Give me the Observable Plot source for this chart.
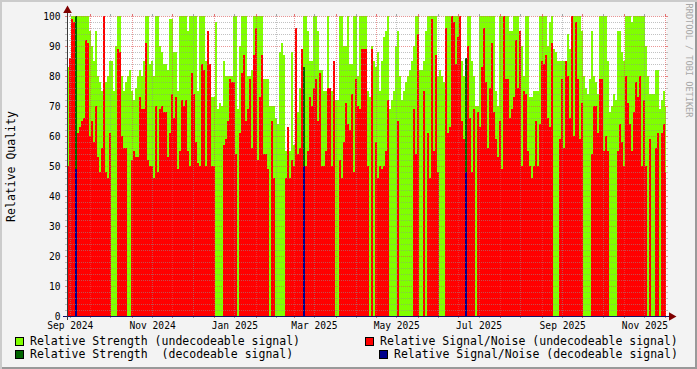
<!DOCTYPE html>
<html><head><meta charset="utf-8">
<script src="https://cdn.jsdelivr.net/npm/d3@7"></script>
<script src="https://cdn.jsdelivr.net/npm/@observablehq/plot@0.6"></script>
<style>
body{margin:0;background:#f3f3f3;}
#wrap{position:relative;width:697px;height:369px;background:#f3f3f3;box-shadow:inset 2px 2px 0 #cbcbcb, inset -2px -2px 0 #999;font-family:"DejaVu Sans Mono",monospace;overflow:hidden;}
#chart svg{display:block;}
.leg{position:absolute;font-size:11.5px;white-space:pre;color:#000;line-height:13px;}
.sw{position:absolute;width:7px;height:7px;border:1px solid #000;}
</style></head><body>
<div id="wrap"><div id="chart"></div><div id="legend"></div></div>
<script>
// time span of the graph (RRD consolidated, ~2 pixels per sample)
const startTime = "2024-09-13T22:10:00Z";
const endTime   = "2025-12-01T22:50:00Z";

// Relative Strength (undecodeable signal)
const strengthUndecodeable = [
83,84,100,100,100,100,100,100,100,100, 100,95,90,85,95,80,78,75,100,78,
80,85,85,75,90,100,100,80,75,78, 80,82,75,72,76,80,82,80,85,100,
100,84,85,80,100,100,90,88,84,84,
82,99,99,88,88,75,100,100,100,100, 95,100,100,100,100,75,100,100,100,85,
70,70,73,73,98,69,71,70,85,80, 80,80,80,100,100,69,90,100,100,100,
80,80,82,100,100,100,100,100,79,79,
79,70,70,70,66,64,88,91,87,55, 52,55,88,57,60,68,76,80,100,100,
95,85,85,100,100,95,82,82,75,75, 100,65,75,75,72,72,100,100,90,90,
100,84,84,100,100,80,100,100,100,100,
75,73,90,85,83,88,75,85,93,95, 100,69,72,75,90,95,80,72,75,78,
80,82,85,90,100,100,82,82,85,95, 100,100,100,100,100,80,82,80,78,100,
100,100,100,100,100,100,90,85,80,80,
100,100,85,80,70,70,100,100,100,100, 100,100,100,100,75,70,100,100,100,100,
100,95,95,100,100,100,90,90,80,100, 100,73,73,75,75,75,100,100,100,100,
90,98,100,89,88,85,85,85,85,85,
94,89,100,100,100,100,100,95,80,76, 74,79,95,80,78,74,100,100,100,100,
85,68,70,74,72,95,95,88,85,100, 100,100,98,100,100,100,100,100,100,90,
80,74,74,74,82,82,69,72,75,70
];

// Relative Signal/Noise (undecodeable signal)
const snUndecodeable = [
50,86,99,98,96,61,63,65,66,92, 91,60,65,58,70,53,48,56,100,48,
46,61,0,0,0,89,88,60,56,56, 0,0,52,55,53,53,73,69,69,91,
52,50,50,46,70,48,69,70,68,68,
53,61,74,66,73,49,55,72,70,72, 55,50,81,74,58,51,50,84,82,50,
95,84,50,50,0,0,0,0,57,59, 65,79,78,78,54,0,61,81,87,65,
69,79,56,87,96,52,73,87,54,54,
49,0,65,46,0,0,0,0,0,46, 63,46,52,50,96,54,56,89,79,50,
55,73,70,76,79,65,81,50,50,55, 76,76,50,85,0,0,52,46,58,71,
64,62,74,48,79,70,69,89,89,89,
50,0,89,0,58,46,50,49,50,55, 72,0,0,0,0,65,0,0,0,0,
0,0,0,69,54,94,0,0,75,0, 61,46,99,55,87,48,0,0,0,96,
61,63,100,98,84,93,100,65,59,59,
90,66,48,69,0,68,63,83,96,78, 56,76,91,68,59,53,65,49,100,79,
79,66,69,73,92,76,95,50,75,74, 55,50,46,50,65,50,64,85,84,87,
66,63,91,0,0,0,59,79,56,85,
80,66,100,60,98,79,59,71,0,0, 0,0,54,70,70,61,79,79,55,60,
55,0,0,0,0,55,64,58,50,80, 71,64,55,68,78,73,80,50,72,50,
0,59,0,0,56,61,0,61,64,48
];

// decodeable signal samples
const decodeDates = ["2024-09-20", "2025-03-08", "2025-07-06"];
const strengthDecodeable = [100, 83, 86];
const snDecodeable = [49, 50, 48];

// x axis labels (month), y axis labels
const labelMonths = ["2024-09","2024-11","2025-01","2025-03","2025-05","2025-07","2025-09","2025-11"];
const yLabels = [0,10,20,30,40,50,60,70,80,90,100];

const seriesNames = [
  "Relative Strength (undecodeable signal)",
  "Relative Signal/Noise (undecodeable signal)",
  "Relative Strength  (decodeable signal)",
  "Relative Signal/Noise (decodeable signal)"
];
const seriesColors = ["#80ff00", "#ff0000", "#006400", "#00008c"];

const yTitle = "Relative Quality";
const watermark = "RRDTOOL / TOBI OETIKER";

// ---- build
const W = 697, H = 333, ML = 67, MR = 31, MT = 16, MB = 17;
const t0 = new Date(startTime), t1 = new Date(endTime);
const plotW = W - ML - MR;
const msPx = (t1 - t0) / plotW;
const step = 2 * msPx;
const bars = strengthUndecodeable.map((g, i) => ({
  x1: new Date(+t0 + i * step),
  x2: new Date(Math.min(+t0 + (i + 1) * step, +t1)),
  g, r: snUndecodeable[i]
}));
const DAY = 864e5;
const dec = decodeDates.map((d, i) => ({
  x1: new Date(d + "T00:00:00Z"),
  x2: new Date(+new Date(d + "T00:00:00Z") + 1.1 * DAY),
  s: strengthDecodeable[i], n: snDecodeable[i]
}));
const monthStarts = d3.utcMonth.range(t0, t1);
const mids = d3.utcMonth.range(d3.utcMonth.floor(t0), t1).map(d => d3.utcDay.offset(d, 15)).filter(d => d > t0 && d < t1);
const labelDates = labelMonths.map(m => d3.utcDay.offset(new Date(m + "-01T00:00:00Z"), 15));
const fmt = d3.utcFormat("%b %Y");
const minorY = d3.range(2, 100, 2).filter(v => v % 10 !== 0);
const majorY = yLabels.filter(v => v > 0);

const gridG = "#8f8f8f", gridM = "#de5050";
const before = new Date(+t0 - 2 * msPx), after = new Date(+t1 + 2 * msPx);
const axisColor = "#3a3a3a", arrowColor = "#7f0000";
const crisp = {shapeRendering: "crispEdges"};

const chart = Plot.plot({
  width: W, height: H, marginLeft: ML, marginRight: MR, marginTop: MT, marginBottom: MB,
  style: {background: "transparent", fontFamily: "DejaVu Sans Mono", fontSize: "9.6px", color: "#000", overflow: "visible"},
  x: {type: "utc", domain: [t0, t1], axis: null},
  y: {type: "linear", domain: [0, 100], axis: null},
  marks: [
    Plot.frame({fill: "#fff", stroke: null}),
    Plot.rectY(bars, {x1: "x1", x2: "x2", y1: 0, y2: "g", fill: seriesColors[0], ...crisp}),
    Plot.rectY(bars, {x1: "x1", x2: "x2", y1: 0, y2: "r", fill: seriesColors[1], ...crisp}),
    Plot.rectY(dec, {x1: "x1", x2: "x2", y1: 0, y2: "s", fill: seriesColors[2], ...crisp}),
    Plot.rectY(dec, {x1: "x1", x2: "x2", y1: 0, y2: "n", fill: seriesColors[3], ...crisp}),
    // horizontal grid
    Plot.ruleY(minorY, {stroke: gridG, strokeOpacity: 0.55, strokeDasharray: "1,1", ...crisp}),
    Plot.ruleY(majorY, {stroke: gridM, strokeOpacity: 0.6, strokeDasharray: "1,1", ...crisp}),
    Plot.ruleY(minorY, {x1: before, x2: t0, stroke: gridG, strokeOpacity: 0.55, ...crisp}),
    Plot.ruleY(minorY, {x1: t1, x2: after, stroke: gridG, strokeOpacity: 0.55, ...crisp}),
    Plot.ruleY(majorY, {x1: before, x2: t0, stroke: gridM, strokeOpacity: 0.7, ...crisp}),
    Plot.ruleY(majorY, {x1: t1, x2: after, stroke: gridM, strokeOpacity: 0.7, ...crisp}),
    // vertical grid
    Plot.ruleX(mids, {stroke: gridG, strokeOpacity: 0.55, strokeDasharray: "1,1", ...crisp}),
    Plot.ruleX(monthStarts, {stroke: gridM, strokeOpacity: 0.6, strokeDasharray: "1,1", ...crisp}),
    Plot.ruleX(mids, {y1: -0.7, y2: 0, stroke: gridG, strokeOpacity: 0.8, ...crisp}),
    Plot.ruleX(mids, {y1: 100, y2: 100.7, stroke: gridG, strokeOpacity: 0.8, ...crisp}),
    Plot.ruleX(monthStarts, {y1: -0.7, y2: 0, stroke: gridM, strokeOpacity: 0.8, ...crisp}),
    Plot.ruleX(monthStarts, {y1: 100, y2: 100.7, stroke: gridM, strokeOpacity: 0.8, ...crisp}),
    // axes
    Plot.ruleY([0], {x1: new Date(+t0 - 4 * msPx), x2: new Date(+t1 + 4 * msPx), stroke: "#10106a", ...crisp}),
    Plot.ruleX([t0], {y1: -1.3, y2: 102.5, stroke: axisColor, ...crisp}),
    Plot.dot([0], {x: () => t0, y: () => 100, dy: -6, symbol: "triangle", r: 3.2, fill: arrowColor, stroke: null}),
    Plot.dot([0], {x: () => t1, y: () => 0, dx: 5, symbol: "triangle", rotate: 90, r: 3.2, fill: arrowColor, stroke: null}),
    // labels
    Plot.text(yLabels, {x: () => t0, y: d => d, text: d => String(d), textAnchor: "end", dx: -7, fill: "#000"}),
    Plot.text(labelDates, {x: d => d, y: () => 0, text: d => fmt(d), dy: 9.5, fill: "#000"}),
    Plot.text([yTitle], {frameAnchor: "left", dx: -56, rotate: -90, textAnchor: "middle", lineAnchor: "middle", text: d => d, fontSize: 11.5, fill: "#000"}),
    Plot.text([watermark], {frameAnchor: "top-right", dx: 22, dy: 44, rotate: 90, textAnchor: "middle", lineAnchor: "middle", text: d => d, fontSize: 8.6, fill: "#a8a8a8"})
  ]
});
document.getElementById("chart").appendChild(chart);

// legend
const leg = document.getElementById("legend");
const legendPos = [
  {sx: 15, tx: 30, cy: 341},
  {sx: 365, tx: 380, cy: 341},
  {sx: 15, tx: 30, cy: 354.5},
  {sx: 379, tx: 394, cy: 354.5}
];
seriesNames.forEach((name, i) => {
  const p = legendPos[i];
  const sw = document.createElement("div");
  sw.className = "sw";
  sw.style.left = p.sx + "px";
  sw.style.top = (p.cy - 4.5) + "px";
  sw.style.background = seriesColors[i];
  leg.appendChild(sw);
  const t = document.createElement("div");
  t.className = "leg";
  t.style.left = p.tx + "px";
  t.style.top = (p.cy - 6.5) + "px";
  t.textContent = name;
  leg.appendChild(t);
});
</script>
</body></html>
